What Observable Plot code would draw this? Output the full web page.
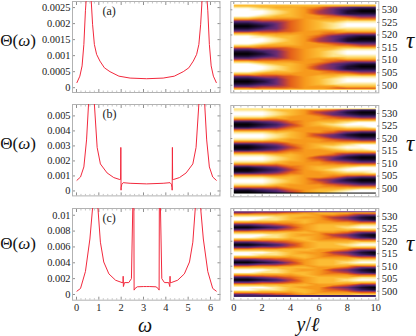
<!DOCTYPE html>
<html>
<head>
<meta charset="utf-8">
<script src="https://cdn.jsdelivr.net/npm/d3@7"></script>
<script src="https://cdn.jsdelivr.net/npm/@observablehq/plot@0.6"></script>
<style>
html,body{margin:0;padding:0;background:#fff}
#chart{position:relative;width:416px;height:336px;overflow:hidden;background:#fff;font-family:"Liberation Serif",serif;color:#111}
.lab{position:absolute;white-space:nowrap;line-height:1;transform:translate(-50%,-50%)}
</style>
</head>
<body>
<div id="chart"></div>
<script>
// Spectra Θ(ω)
const omegaA = [0.02,0.15,0.25,0.33,0.40,0.43,0.55,0.66,0.72,0.80,0.90,1.05,1.25,1.50,1.90,2.40,3.14,3.88,4.38,4.78,5.03,5.23,5.38,5.48,5.56,5.62,5.73,5.85,5.88,5.95,6.03,6.13,6.26];
const thetaA = [0.00016,0.00036,0.00068,0.00135,0.0024,0.0027,0.02,0.0027,0.00198,0.00135,0.00104,0.00083,0.00062,0.0005,0.00036,0.0003,0.00028,0.0003,0.00036,0.0005,0.00062,0.00083,0.00104,0.00135,0.00198,0.0027,0.02,0.0027,0.0024,0.00135,0.00068,0.00036,0.00016];

const omegaB = [0.02,0.18,0.33,0.45,0.54,0.67,0.80,0.925,1.07,1.37,1.67,1.94,1.975,1.985,1.995,2.00,2.03,2.09,2.4,3.14,3.88,4.19,4.25,4.28,4.285,4.295,4.305,4.34,4.61,4.91,5.21,5.355,5.48,5.61,5.74,5.83,5.95,6.10,6.26];
const thetaB = [0.00071,0.00093,0.0016,0.0034,0.0058,0.02,0.0058,0.0029,0.0018,0.0012,0.00089,0.00076,0.00076,0.0029,0.00005,0.00022,0.00045,0.00055,0.00051,0.00047,0.00051,0.00055,0.00045,0.00022,0.00005,0.0029,0.00076,0.00076,0.00089,0.0012,0.0018,0.0029,0.0058,0.02,0.0058,0.0034,0.0016,0.00093,0.00071];

const omegaC = [0.02,0.18,0.40,0.60,0.72,0.84,0.96,1.07,1.22,1.45,1.75,2.04,2.085,2.09,2.10,2.15,2.34,2.46,2.52,2.545,2.57,2.58,2.62,2.72,3.0,3.14,3.28,3.56,3.66,3.70,3.71,3.735,3.76,3.82,3.94,4.13,4.18,4.19,4.195,4.24,4.53,4.83,5.06,5.21,5.32,5.44,5.56,5.68,5.88,6.10,6.26];
const thetaC = [0.00042,0.00076,0.0029,0.007,0.0109,0.04,0.0109,0.0066,0.0041,0.0026,0.0018,0.0015,0.0015,0.0023,0.001,0.0015,0.0015,0.002,0.0109,0.04,0.0109,0.00055,0.00075,0.00097,0.001,0.001,0.001,0.00097,0.00075,0.00055,0.0109,0.04,0.0109,0.002,0.0015,0.0015,0.001,0.0023,0.0015,0.0015,0.0018,0.0026,0.0041,0.0066,0.0109,0.04,0.0109,0.007,0.0029,0.00076,0.00042];

const omegaTicks = [0,1,2,3,4,5,6];
const omegaMinor = [0,0.2,0.4,0.6,0.8,1.2,1.4,1.6,1.8,2.2,2.4,2.6,2.8,3.2,3.4,3.6,3.8,4.2,4.4,4.6,4.8,5.2,5.4,5.6,5.8,6.2,6.4];
const thetaTicksA = [0,0.0005,0.001,0.0015,0.002,0.0025];
const thetaTicksB = [0,0.001,0.002,0.003,0.004,0.005];
const thetaTicksC = [0,0.002,0.004,0.006,0.008,0.01];
const yTicks = [0,2,4,6,8,10];
const yMinor = [0.5,1,1.5,2.5,3,3.5,4.5,5,5.5,6.5,7,7.5,8.5,9,9.5];
const tauTicks = [500,505,510,515,520,525,530];

// Colour levels of the density plots: each named row holds levels at y/ℓ = 0..10,
// each table lists the rows read from τ = 531.5 down in unit steps.
const levels = [0,1,2,3,4,5,6,7,8,9];
const palette = ["#000000","#1d0d30","#3d1f63","#6a2c73","#b03a48","#e4601a","#f79a1c","#fcbc34","#fee68c","#ffffff"];

const a0=[0,0,1,3,5,6,7,8,9,9,9], a1=[1,1,2,3,5,6,7,8,9,9,9], a2=[3,3,4,4,5,6,7,7,8,8,8], a3=[7,7,6,6,6,6,6,6,6,5,5],
      a4=[9,9,8,7,7,6,6,5,4,3,3], a5=[9,9,9,8,7,6,4,3,1,1,1], a6=[9,9,9,8,7,6,4,3,1,0,0], a7=[9,9,8,7,7,6,5,3,2,1,1],
      a8=[7,7,6,6,6,6,6,5,4,4,4], a9=[3,3,4,4,5,6,6,6,7,7,7], a10=[1,1,2,3,5,6,7,8,8,8,8];
const heatA = [a8,a7,a6,a5,a4,a3,a2,a1,a0,a10,a9, a8,a7,a6,a5,a4,a3,a2,a1,a0,a10,a9, a8,a7,a6,a5,a4,a3,a2,a1,a0,a10,a9, a8];

const b0=[0,0,1,2,4,6,7,8,9,9,9], b1=[1,1,2,3,5,6,7,7,8,9,9], b2=[5,5,5,5,6,6,6,6,6,6,6], b3=[8,8,8,7,6,6,6,5,4,3,3],
      b4=[9,9,9,8,7,6,5,3,2,1,1], b5=[9,9,9,8,7,6,4,3,1,0,0], b6=[8,8,8,7,7,6,6,5,3,2,2], b7=[5,5,5,5,6,6,6,6,6,6,6],
      b8=[1,1,2,3,5,6,6,7,8,8,9];
const heatB = [b6,b5,b4,b3,b2,b1,b0,b8,b7, b6,b5,b4,b3,b2,b1,b0,b8,b7, b6,b5,b4,b3,b2,b1,b0,b8,b7, b6,b5,b4,b3,b2,b1,b0];

const c0=[0,0,1,2,4,6,7,7,8,9,9], c1=[2,2,3,4,5,6,7,7,7,8,8], c2=[6,6,6,6,6,7,6,6,6,5,5], c3=[9,9,8,8,7,7,6,5,4,2,1],
      c4=[9,9,9,8,7,6,6,4,3,1,0], c5=[7,7,7,7,7,7,6,6,5,3,3], c6=[3,3,4,4,5,6,7,7,7,7,7];
const heatC = [c6,c5,c4,c3,c2,c1,c0, c6,c5,c4,c3,c2,c1,c0, c6,c5,c4,c3,c2,c1,c0, c6,c5,c4,c3,c2,c1,c0, c6,c5,c4,c3,c2,c1];

const chart = document.getElementById("chart");
const FONT = '"Liberation Serif",serif';
const FRAME = "#b2b2b2", TICK = "#8f8f8f", MINOR = "#c4c4c4", INK = "#222";

function style(left, top) {
  return {position:"absolute", left:left+"px", top:top+"px", fontFamily:FONT, fontSize:"10.4px", color:INK, background:"transparent"};
}

function spectrum({omega, theta, frameTop, frameBottom, yDomain, yTicksMajor, tag, showX}) {
  const rows = omega.map((w,i) => ({w, t:theta[i]}));
  const svg = Plot.plot({
    width:222, height:frameBottom-frameTop+21, marginLeft:72, marginRight:2.5, marginTop:1, marginBottom:20,
    style:style(0, frameTop-1),
    x:{domain:[-0.179,6.426], axis:null},
    y:{domain:yDomain, axis:null},
    marks:[
      Plot.axisX({anchor:"bottom", ticks:omegaMinor, tickSize:-1.5, tickFormat:()=>"", label:null, stroke:MINOR}),
      Plot.axisX({anchor:"top", ticks:omegaMinor, tickSize:-1.5, tickFormat:()=>"", label:null, stroke:MINOR}),
      Plot.axisX({anchor:"top", ticks:omegaTicks, tickSize:-3, tickFormat:()=>"", label:null, stroke:TICK}),
      Plot.axisX({anchor:"bottom", ticks:omegaTicks, tickSize:-3, tickPadding:6, tickFormat:showX?String:()=>"", label:null, stroke:TICK}),
      Plot.axisY({anchor:"left", ticks:yTicksMajor, tickSize:-3, tickPadding:5, tickFormat:String, label:null, stroke:TICK}),
      Plot.axisY({anchor:"right", ticks:yTicksMajor, tickSize:-3, tickFormat:()=>"", label:null, stroke:TICK}),
      Plot.frame({stroke:FRAME}),
      Plot.line(rows, {x:"w", y:"t", stroke:"#f2283c", strokeWidth:1, clip:true}),
      Plot.text([tag], {frameAnchor:"top-left", dx:30, dy:5, fontSize:12, fill:INK})
    ]
  });
  chart.appendChild(svg);
}

function density({rows, frameTop, frameBottom, yDomain, tauTop, tauBottom, showX}) {
  const points = rows.flatMap((r,i) => r.map((v,j) => ({y:j, tau:531.5-i, v})));
  const svg = Plot.plot({
    width:190, height:frameBottom-frameTop+21, marginLeft:4.3, marginRight:37.7, marginTop:1, marginBottom:20,
    style:style(226, frameTop-1),
    x:{domain:[-0.21,10.21], axis:null},
    y:{domain:yDomain, axis:null},
    color:{type:"linear", domain:levels, range:palette},
    marks:[
      Plot.raster(points, {x:"y", y:"tau", fill:"v", interpolate:"barycentric", x1:0, x2:10, y1:tauTop, y2:tauBottom, pixelSize:1}),
      Plot.axisX({anchor:"bottom", ticks:yMinor, tickSize:-1.5, tickFormat:()=>"", label:null, stroke:MINOR}),
      Plot.axisX({anchor:"top", ticks:yMinor, tickSize:-1.5, tickFormat:()=>"", label:null, stroke:MINOR}),
      Plot.axisX({anchor:"top", ticks:yTicks, tickSize:-2, tickFormat:()=>"", label:null, stroke:TICK}),
      Plot.axisX({anchor:"bottom", ticks:yTicks, tickSize:-2, tickPadding:5, tickFormat:showX?String:()=>"", label:null, stroke:TICK}),
      Plot.axisY({anchor:"right", ticks:tauTicks, tickSize:-2, tickPadding:5, tickFormat:String, label:null, stroke:TICK}),
      Plot.axisY({anchor:"left", ticks:tauTicks, tickSize:-2, tickFormat:()=>"", label:null, stroke:TICK}),
      Plot.frame({stroke:FRAME})
    ]
  });
  chart.appendChild(svg);
}

spectrum({omega:omegaA, theta:thetaA, frameTop:0.5, frameBottom:91.5, yDomain:[-0.00015,0.00269], yTicksMajor:thetaTicksA, tag:"(a)", showX:false});
spectrum({omega:omegaB, theta:thetaB, frameTop:104.3, frameBottom:195.7, yDomain:[-0.00033,0.00576], yTicksMajor:thetaTicksB, tag:"(b)", showX:false});
spectrum({omega:omegaC, theta:thetaC, frameTop:208.3, frameBottom:300, yDomain:[-0.00072,0.01085], yTicksMajor:thetaTicksC, tag:"(c)", showX:true});

density({rows:heatA, frameTop:1, frameBottom:92.3, yDomain:[497,533.3], tauTop:532.1, tauBottom:498.2, showX:false});
density({rows:heatB, frameTop:104.7, frameBottom:196, yDomain:[496.7,533.2], tauTop:532.1, tauBottom:498, showX:false});
density({rows:heatC, frameTop:208.3, frameBottom:300, yDomain:[496.4,533.1], tauTop:532, tauBottom:497.7, showX:true});

function label(html, x, y, size) {
  const d = document.createElement("div");
  d.className = "lab";
  d.innerHTML = html;
  d.style.left = x+"px"; d.style.top = y+"px"; d.style.fontSize = size+"px";
  chart.appendChild(d);
}
for (const y of [40,143,243]) {
  label('Θ(<i>ω</i>)', 18, y, 17);
  label('<i>τ</i>', 410, y, 23);
}
label('<i>ω</i>', 145, 325, 20);
label('<i>y</i>/<i>ℓ</i>', 308, 324, 20);
</script>
</body>
</html>
